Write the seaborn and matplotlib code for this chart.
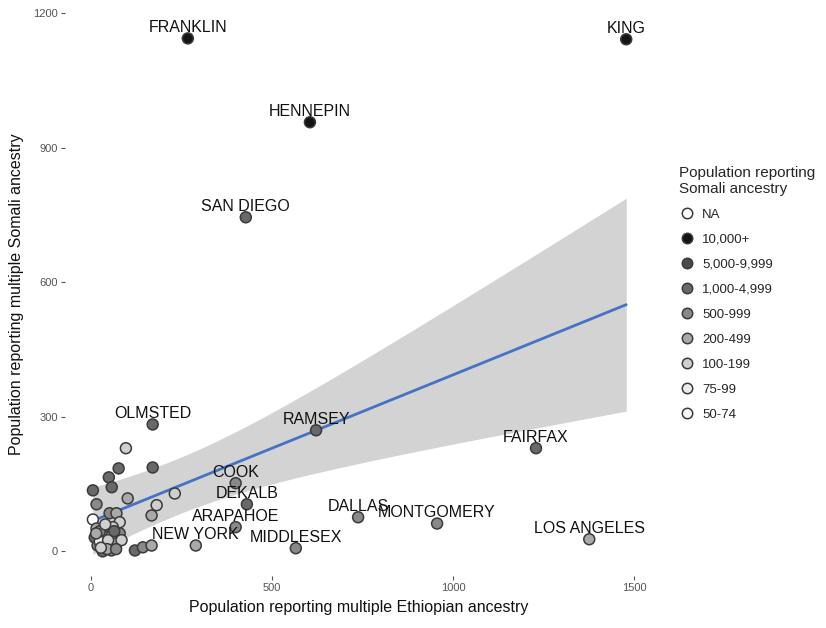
import matplotlib
matplotlib.use("Agg")
import matplotlib.pyplot as plt
import seaborn as sns
import numpy as np
import pandas as pd

# County-level counts: multiple Ethiopian ancestry (x) vs multiple Somali ancestry (y)
county = ["FRANKLIN", "KING", "HENNEPIN", "SAN DIEGO", "OLMSTED", "RAMSEY",
          "FAIRFAX", "COOK", "DEKALB", "ARAPAHOE", "DALLAS", "MONTGOMERY",
          "MIDDLESEX", "LOS ANGELES", "NEW YORK",
          "", "", "", "", "", "", "", "", "", "", "", "", "", "", "",
          "", "", "", "", "", "", "", "", "", "", "", "", "", "", "",
          "", "", "", "", "", "", "", "", "", ""]
ethiopian = [268, 1478, 605, 428, 171, 622,
             1229, 400, 431, 400, 738, 956,
             566, 1376, 290,
             97, 171, 77, 50, 58, 6, 16, 102, 232, 6, 52, 71, 80, 168, 182,
             16, 38, 61, 11, 33, 57, 80, 19, 44, 71, 33, 57, 122, 144, 168,
             25, 48, 25, 65, 45, 85, 15, 28, 70, 40]
somali = [1144, 1142, 957, 745, 283, 270,
          230, 152, 105, 54, 76, 62,
          7, 27, 13,
          230, 187, 185, 165, 143, 136, 105, 118, 129, 71, 85, 85, 65, 80, 103,
          51, 54, 54, 31, 36, 33, 40, 13, 13, 18, 0, 2, 2, 9, 13,
          22, 25, 45, 45, 5, 25, 40, 8, 5, 60]
somali_pop = ["10,000+", "10,000+", "10,000+", "1,000-4,999", "1,000-4,999", "1,000-4,999",
              "1,000-4,999", "500-999", "1,000-4,999", "500-999", "500-999", "500-999",
              "500-999", "200-499", "200-499",
              "100-199", "1,000-4,999", "1,000-4,999", "1,000-4,999", "1,000-4,999",
              "1,000-4,999", "500-999", "200-499", "100-199", "NA", "500-999",
              "200-499", "100-199", "200-499", "100-199",
              "200-499", "500-999", "100-199", "1,000-4,999", "200-499", "75-99",
              "500-999", "500-999", "50-74", "200-499", "1,000-4,999", "500-999",
              "1,000-4,999", "500-999", "200-499",
              "75-99", "100-199", "500-999", "1,000-4,999", "200-499", "100-199",
              "200-499", "100-199", "500-999", "100-199"]

levels = ["NA", "10,000+", "5,000-9,999", "1,000-4,999", "500-999",
          "200-499", "100-199", "75-99", "50-74"]
fills = ["#ffffff", "#141414", "#4a4a4a", "#696969", "#898989",
         "#a9a9a9", "#cfcfcf", "#ebebeb", "#f7f7f7"]

df = pd.DataFrame({"county": county, "eth": ethiopian, "som": somali,
                   "group": somali_pop})

# Ordinary least squares fit with a t-based 95% confidence band
x = df["eth"].to_numpy(float)
y = df["som"].to_numpy(float)
n = len(x)
slope, intercept = np.polyfit(x, y, 1)
resid = y - (intercept + slope * x)
s_err = np.sqrt(np.sum(resid ** 2) / (n - 2))
sxx = np.sum((x - x.mean()) ** 2)
t_crit = 2.0
grid = np.linspace(x.min(), x.max(), 200)
fit = intercept + slope * grid
half = t_crit * s_err * np.sqrt(1.0 / n + (grid - x.mean()) ** 2 / sxx)
fit_df = pd.DataFrame({"eth": grid, "fit": fit})

sns.set_theme(style="white")
plt.rcParams["font.family"] = ["Liberation Sans", "DejaVu Sans"]

fig = plt.figure(figsize=(8.26, 6.28), dpi=100)
ax = fig.add_axes([0.0787, 0.0828, 0.7119, 0.8982])

ax.fill_between(grid, fit - half, fit + half, color="#d3d3d3", lw=0, zorder=1)
sns.lineplot(data=fit_df, x="eth", y="fit", color="#4472c4", lw=2.0, ax=ax,
             zorder=2)

sns.scatterplot(data=df, x="eth", y="som", hue="group", hue_order=levels,
                palette=dict(zip(levels, fills)), s=62, edgecolor="#3a3a3a",
                linewidth=1.1, ax=ax, zorder=3)

for name, xv, yv in zip(df["county"], df["eth"], df["som"]):
    if name:
        ax.annotate(name, (xv, yv), xytext=(0, 2.5), textcoords="offset points",
                    ha="center", va="bottom", fontsize=11.5, color="#111111",
                    zorder=4)

ax.set_xlim(-71, 1552)
ax.set_ylim(-55, 1203)
ax.set_xticks([0, 500, 1000, 1500])
ax.set_yticks([0, 300, 600, 900, 1200])
ax.tick_params(axis="both", which="both", length=3, width=0.8, color="#555555",
               labelcolor="#555555", labelsize=8, pad=2,
               bottom=True, left=True)
for sp in ax.spines.values():
    sp.set_visible(False)
ax.grid(False)
ax.set_xlabel("Population reporting multiple Ethiopian ancestry",
              fontsize=11.5, color="#111111", labelpad=5)
ax.set_ylabel("Population reporting multiple Somali ancestry",
              fontsize=11.5, color="#111111", labelpad=7)

sns.move_legend(ax, loc="upper left", bbox_to_anchor=(1.036, 0.737),
                frameon=False, title="Population reporting\nSomali ancestry",
                fontsize=9.5, title_fontsize=11, labelspacing=0.97,
                handlelength=1.2, handletextpad=0.5, borderaxespad=0)
leg = ax.get_legend()
leg._legend_box.align = "left"
for h in leg.legend_handles:
    h.set_markersize(7.5)
    h.set_markeredgecolor("#3a3a3a")

fig.savefig("out.png", dpi=100, facecolor="white")
